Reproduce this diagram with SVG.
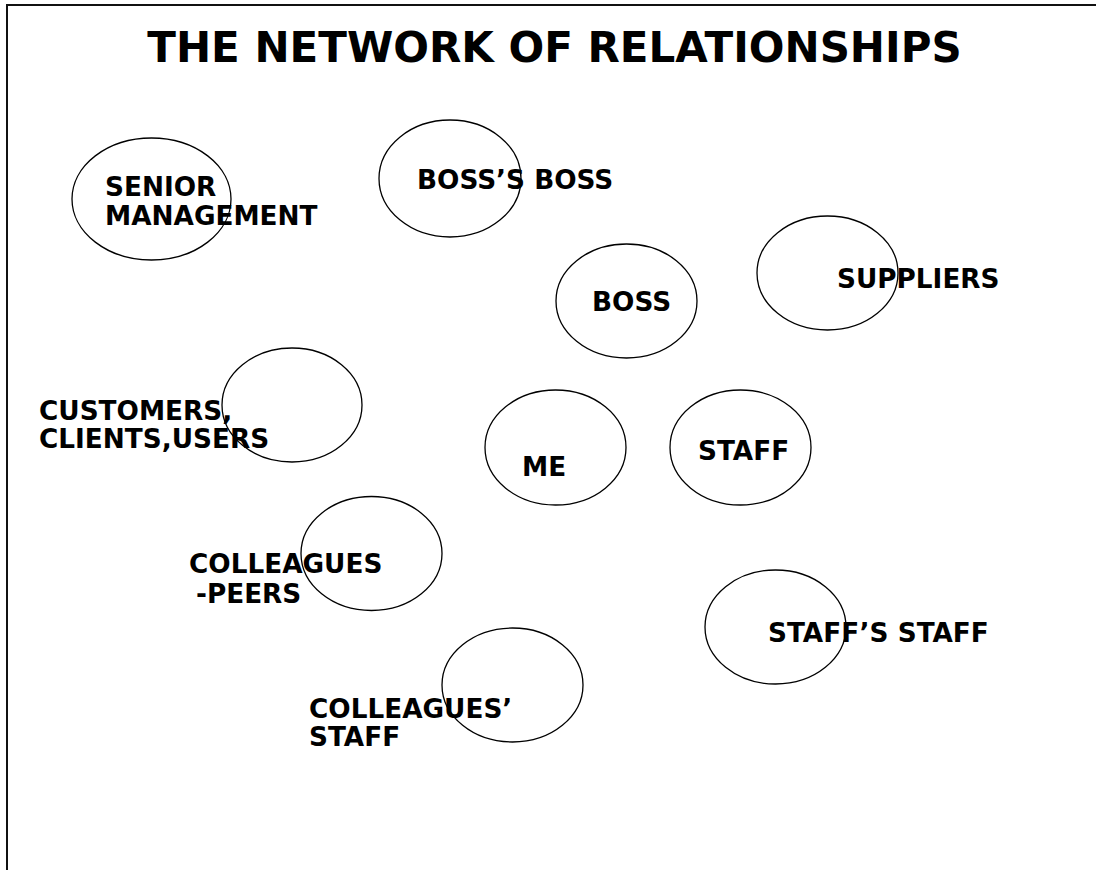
<svg xmlns="http://www.w3.org/2000/svg" width="1096" height="870" viewBox="0 0 1096 870">
  <style>
    .title { font-family: "DejaVu Sans", Verdana, sans-serif; font-weight: bold; font-size: 42px; fill: #000; }
    .lbl { font-family: "DejaVu Sans", Verdana, sans-serif; font-weight: bold; font-size: 26.3px; fill: #000; }
    .node ellipse { fill: none; stroke: #000; stroke-width: 1.3; }
    .frame { fill: none; stroke: #111; stroke-width: 2; }
  </style>
  <rect width="1096" height="870" fill="#fff"/>
  <!-- page frame: top and left edges only -->
  <path class="frame" d="M7,872 V5 H1098"/>

  <text class="title" x="554.5" y="62" text-anchor="middle">THE NETWORK OF RELATIONSHIPS</text>

  <g id="connectors"/>

  <g id="senior-management" class="node">
    <ellipse cx="151.5" cy="199" rx="79.5" ry="61"/>
    <text class="lbl" x="105" y="196">SENIOR</text>
    <text class="lbl" x="105" y="225">MANAGEMENT</text>
  </g>
  <g id="boss-boss" class="node">
    <ellipse cx="450" cy="178.5" rx="71" ry="58.5"/>
    <text class="lbl" x="417" y="189">BOSS’S BOSS</text>
  </g>
  <g id="boss" class="node">
    <ellipse cx="626.5" cy="301" rx="70.5" ry="57"/>
    <text class="lbl" x="592" y="311">BOSS</text>
  </g>
  <g id="suppliers" class="node">
    <ellipse cx="827.5" cy="273" rx="70.5" ry="57"/>
    <text class="lbl" x="837" y="288">SUPPLIERS</text>
  </g>
  <g id="customers" class="node">
    <ellipse cx="292" cy="405" rx="70" ry="57"/>
    <text class="lbl" x="39" y="420">CUSTOMERS,</text>
    <text class="lbl" x="39" y="448">CLIENTS,USERS</text>
  </g>
  <g id="me" class="node">
    <ellipse cx="555.5" cy="447.5" rx="70.5" ry="57.5"/>
    <text class="lbl" x="522" y="476">ME</text>
  </g>
  <g id="staff" class="node">
    <ellipse cx="740.5" cy="447.5" rx="70.5" ry="57.5"/>
    <text class="lbl" x="698" y="460">STAFF</text>
  </g>
  <g id="colleagues-peers" class="node">
    <ellipse cx="371.5" cy="553.5" rx="70.5" ry="57"/>
    <text class="lbl" x="189" y="573">COLLEAGUES</text>
    <text class="lbl" x="196" y="603">-PEERS</text>
  </g>
  <g id="staffs-staff" class="node">
    <ellipse cx="775.5" cy="627" rx="70.5" ry="57"/>
    <text class="lbl" x="768" y="642">STAFF’S STAFF</text>
  </g>
  <g id="colleagues-staff" class="node">
    <ellipse cx="512.5" cy="685" rx="70.5" ry="57"/>
    <text class="lbl" x="309" y="718">COLLEAGUES’</text>
    <text class="lbl" x="309" y="746">STAFF</text>
  </g>
</svg>
